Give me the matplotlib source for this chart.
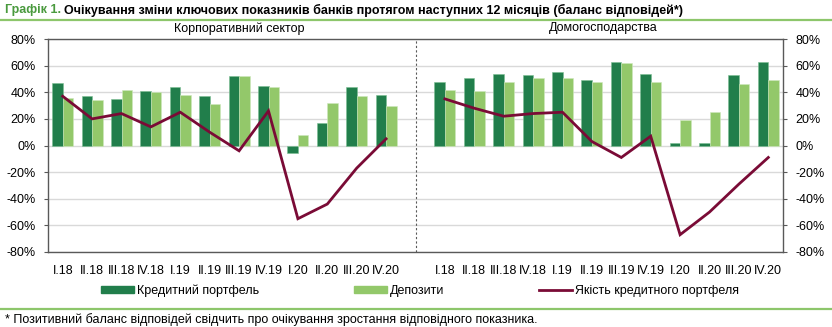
import numpy as np
import matplotlib.pyplot as plt
from matplotlib.lines import Line2D

plt.rcParams['font.family'] = ['Liberation Sans', 'DejaVu Sans']

quarters = ['I.18', 'II.18', 'III.18', 'IV.18', 'I.19', 'II.19', 'III.19', 'IV.19',
            'I.20', 'II.20', 'III.20', 'IV.20']

# Корпоративний сектор
corp_credit = [47, 37, 35, 41, 44, 37, 52, 45, -6, 17, 44, 38]
corp_deposits = [36, 34, 42, 40, 38, 31, 52, 44, 8, 32, 37, 30]
corp_quality = [37, 20, 24, 14, 25, 10, -4, 26, -55, -44, -17, 5]

# Домогосподарства
hh_credit = [48, 51, 54, 53, 55, 49, 63, 54, 2, 2, 53, 63]
hh_deposits = [42, 41, 48, 51, 51, 48, 62, 48, 19, 25, 46, 49]
hh_quality = [35, 28, 22, 24, 25, 3, -9, 7, -67, -50, -29, -9]

dark_green = '#217E4B'
light_green = '#93C86A'
maroon = '#7A0B36'
rule_green = '#8DC66B'
fs = 9

fig = plt.figure(figsize=(8.32, 3.27), dpi=100)
ax = fig.add_axes([48 / 832, 1 - 252 / 327, (783 - 48) / 832, (252 - 39) / 327])

n = len(quarters)
x_left = np.arange(n)
x_right = np.arange(n) + n + 1
w = 0.36

for xs, cr, dp, q in [(x_left, corp_credit, corp_deposits, corp_quality),
                      (x_right, hh_credit, hh_deposits, hh_quality)]:
    ax.bar(xs - w / 2, cr, w, color=dark_green, edgecolor='#7DBE93', linewidth=0.4, zorder=3)
    ax.bar(xs + w / 2, dp, w, color=light_green, edgecolor='#CFE8BE', linewidth=0.4, zorder=3)
    ax.plot(xs, q, color=maroon, linewidth=2.0, zorder=4, solid_joinstyle='miter')

ax.axvline(n, color='#595959', linestyle=(0, (2, 2)), linewidth=0.8, zorder=2)

ax.set_xlim(-0.5, 2 * n + 0.5)
ax.set_ylim(-80, 80)
ax.set_yticks(range(-80, 81, 20))
ax.set_yticklabels(['%d%%' % v for v in range(-80, 81, 20)])
ax.set_xticks(np.concatenate([x_left, x_right]))
ax.set_xticklabels(quarters + quarters)
ax.grid(axis='y', color='#D9D9D9', linewidth=1.0, zorder=0)
ax.set_axisbelow(True)

ax.tick_params(axis='x', length=0, pad=9, labelsize=fs, colors='black')
ax.tick_params(axis='y', length=3, width=0.8, color='#595959', pad=6, labelsize=fs,
               left=True, right=True, labelleft=True, labelright=True)
for s in ax.spines.values():
    s.set_color('#595959')
    s.set_linewidth(1.0)

# panel titles
fig.text(239.5 / 832, 1 - 28.5 / 327, 'Корпоративний сектор', ha='center', va='center', fontsize=fs)
fig.text(603 / 832, 1 - 28.5 / 327, 'Домогосподарства', ha='center', va='center', fontsize=fs)

handles = [plt.Rectangle((0, 0), 1, 1, color=dark_green),
           plt.Rectangle((0, 0), 1, 1, color=light_green),
           Line2D([0], [0], color=maroon, linewidth=2.0)]
labels = ['Кредитний портфель', 'Депозити', 'Якість кредитного портфеля']
fig.legend(handles, labels, loc='center', bbox_to_anchor=(0.5 + 4 / 832, 1 - 291 / 327), ncol=3,
           frameon=False, fontsize=fs, handlelength=2.6, handleheight=0.5,
           handletextpad=0.25, columnspacing=7.6)

# title
t1 = fig.text(5 / 832, 1 - 10 / 327, 'Графік 1.', color='#4A9A3E', fontsize=fs, fontweight='bold',
              ha='left', va='center')
fig.canvas.draw()
bb = t1.get_window_extent()
fig.text((bb.x1 + 3) / 832, 1 - 10 / 327,
         'Очікування зміни ключових показників банків протягом наступних 12 місяців (баланс відповідей*)',
         color='black', fontsize=fs, fontweight='bold', ha='left', va='center')

fig.add_artist(Line2D([0, 1], [1 - 19.5 / 327, 1 - 19.5 / 327], color=rule_green, linewidth=1.6,
                      transform=fig.transFigure))
fig.add_artist(Line2D([0, 1], [1 - 308.5 / 327, 1 - 308.5 / 327], color=rule_green, linewidth=1.6,
                      transform=fig.transFigure))

fig.text(5 / 832, 1 - 320 / 327,
         '* Позитивний баланс відповідей свідчить про очікування зростання відповідного показника.',
         fontsize=fs, ha='left', va='center')

fig.savefig('out.png', dpi=100)
